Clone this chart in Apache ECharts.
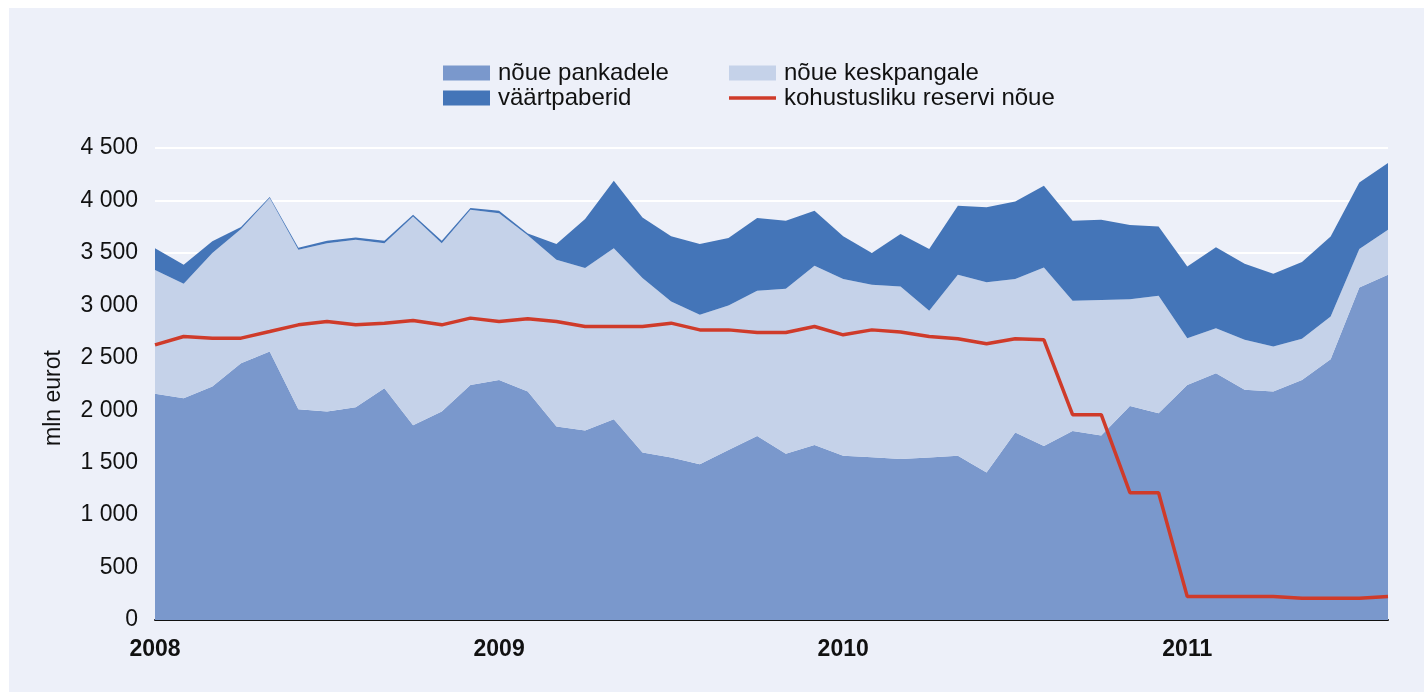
<!DOCTYPE html>
<html>
<head>
<meta charset="utf-8">
<title>Nõuded</title>
<script src="https://cdn.jsdelivr.net/npm/echarts@6/dist/echarts.min.js"></script>
<style>
  html, body { margin: 0; padding: 0; background: #fff; }
  #main { width: 1424px; height: 692px; }
</style>
</head>
<body>
<div id="main"></div>
<script>
// kuud 2008-01 ... 2011-08
var months = [
  '2008-01','2008-02','2008-03','2008-04','2008-05','2008-06','2008-07','2008-08','2008-09','2008-10','2008-11','2008-12',
  '2009-01','2009-02','2009-03','2009-04','2009-05','2009-06','2009-07','2009-08','2009-09','2009-10','2009-11','2009-12',
  '2010-01','2010-02','2010-03','2010-04','2010-05','2010-06','2010-07','2010-08','2010-09','2010-10','2010-11','2010-12',
  '2011-01','2011-02','2011-03','2011-04','2011-05','2011-06','2011-07','2011-08'
];
// mln eurot
var pankadele = [
  2156, 2115, 2226, 2449, 2560, 2010, 1987, 2029, 2210, 1857, 1987, 2241, 2289, 2178,
  1844, 1806, 1914, 1596, 1549, 1485, 1621, 1755, 1584, 1669, 1565, 1552, 1536,
  1549, 1565, 1406, 1787, 1659, 1803, 1758, 2040, 1971, 2241, 2352, 2195, 2178, 2289, 2486, 3170, 3292
];
var keskpangale = [
  1182, 1090, 1272, 1278, 1464, 1520, 1606, 1596, 1383, 1991, 1606, 1670, 1590, 1490,
  1590, 1549, 1631, 1664, 1488, 1425, 1377, 1383, 1573, 1708, 1685, 1644, 1644,
  1399, 1727, 1813, 1463, 1702, 1241, 1294, 1018, 1120, 445, 429, 476, 429, 392, 408, 367, 428
];
var vaartpaberid = [
  207, 181, 112, 19, 9, 20, 22, 22, 22, 16, 22, 16, 22, 16,
  150, 468, 643, 578, 621, 674, 643, 694, 650, 524, 408, 302, 499,
  589, 658, 715, 741, 779, 763, 763, 708, 661, 684, 773, 725, 694, 731, 763, 635, 637
];
var reserv = [
  2623, 2703, 2687, 2687, 2750, 2814, 2846, 2814, 2830, 2855, 2814, 2878, 2846, 2871,
  2846, 2798, 2798, 2798, 2830, 2766, 2766, 2741, 2741, 2798, 2719, 2766, 2746,
  2703, 2681, 2633, 2681, 2671, 1958, 1958, 1214, 1214, 223, 223, 223, 223, 207, 207, 207, 223
];

var fnt = '"Liberation Sans", Arial, Helvetica, sans-serif';
var chart = echarts.init(document.getElementById('main'));

//tuhandete eraldaja tühikuga
var fmt = function(v){
    if(v >= 1000){
        var r = String(v % 1000);
        while(r.length < 3) r = '0' + r;
        return Math.floor(v / 1000) + ' ' + r;
    }
    return String(v);
};

var areaSeries = function(name, data, color){
    return {
        name: name,
        type: 'line',
        stack: 'kokku',
        data: data,
        symbol: 'none',
        color: color,
        lineStyle: { width: 0 },
        areaStyle: { color: color, opacity: 1 },
        emphasis: { disabled: true }
    };
};

var legendText = { fontSize: 24, lineHeight: 24, color: '#111', padding: [0, 0, 0, 3] };

var option = {
    backgroundColor: '#EDF0F9',
    animation: false,
    textStyle: { fontFamily: fnt },
    graphic: [
        // valge serv vasakul ja üleval
        { type: 'rect', left: 0, top: 0, shape: { width: 9, height: 692 }, style: { fill: '#fff' } },
        { type: 'rect', left: 0, top: 0, shape: { width: 1424, height: 8 }, style: { fill: '#fff' } },
        {
            type: 'text',
            x: 54, y: 398,
            rotation: Math.PI / 2,
            style: {
                text: 'mln eurot',
                font: '23px ' + fnt,
                fill: '#111',
                align: 'center',
                verticalAlign: 'middle'
            }
        }
    ],
    legend: [
        {
            left: 438, top: 56,
            orient: 'vertical',
            itemWidth: 47, itemHeight: 15, itemGap: 1,
            selectedMode: false,
            textStyle: legendText,
            data: [{ name: 'nõue pankadele', icon: 'rect' }, { name: 'väärtpaberid', icon: 'rect' }]
        },
        {
            left: 724, top: 56,
            orient: 'vertical',
            itemWidth: 47, itemHeight: 15, itemGap: 1,
            selectedMode: false,
            textStyle: legendText,
            data: [
                { name: 'nõue keskpangale', icon: 'rect' },
                { name: 'kohustusliku reservi nõue', icon: 'path://M0,0H47V3.5H0Z' }
            ]
        }
    ],
    grid: { left: 155, right: 36, top: 148, bottom: 72 },
    xAxis: {
        type: 'category',
        boundaryGap: false,
        data: months,
        axisLine: { lineStyle: { color: '#111', width: 2 } },
        axisTick: { show: false },
        axisLabel: {
            interval: 11,
            formatter: function(v){ return v.slice(0, 4); },
            fontSize: 23,
            fontWeight: 'bold',
            color: '#111',
            margin: 18
        },
        splitLine: { show: false }
    },
    yAxis: {
        type: 'value',
        min: 0, max: 4500, interval: 500,
        axisLine: { show: false },
        axisTick: { show: false },
        axisLabel: { formatter: fmt, fontSize: 23, color: '#111', margin: 17, padding: [4, 0, 0, 0] },
        splitLine: { lineStyle: { color: '#ffffff', width: 2 } }
    },
    series: [
        areaSeries('nõue pankadele', pankadele, '#7A98CC'),
        areaSeries('nõue keskpangale', keskpangale, '#C5D2E9'),
        areaSeries('väärtpaberid', vaartpaberid, '#4475B8'),
        {
            name: 'kohustusliku reservi nõue',
            type: 'line',
            data: reserv,
            symbol: 'none',
            color: '#CF3B2A',
            lineStyle: { width: 3.5, color: '#CF3B2A' },
            z: 5,
            emphasis: { disabled: true }
        }
    ]
};
chart.setOption(option);
</script>
</body>
</html>
